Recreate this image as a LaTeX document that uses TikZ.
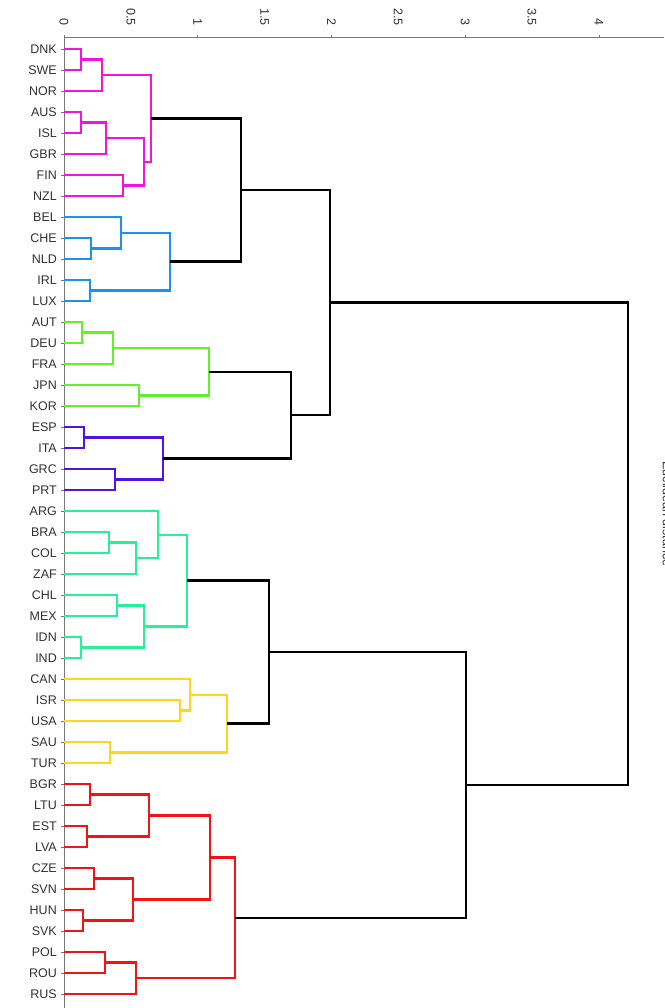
\documentclass[tikz,border=0pt]{standalone}
\usepackage{fontspec}
\setmainfont{Liberation Sans}
\usetikzlibrary{calc}
\definecolor{cpink}{RGB}{240,20,220}
\definecolor{cblue}{RGB}{30,144,240}
\definecolor{cgreen}{RGB}{100,240,40}
\definecolor{cpurp}{RGB}{80,20,225}
\definecolor{cteal}{RGB}{40,240,150}
\definecolor{cyell}{RGB}{255,215,20}
\definecolor{cred}{RGB}{240,20,20}
\definecolor{axgray}{RGB}{120,120,120}
\definecolor{labgray}{RGB}{50,50,50}
\newcommand\dmerge[5]{%
  \coordinate (#1t) at ($(#3)!0.5!(#4)$);
  \coordinate (#1) at (#2,0 |- #1t);
  \draw[#5] (#3) -| (#1) |- (#4);}
\begin{document}
\begin{tikzpicture}[x=1pt,y=-1pt,
  lab/.style={anchor=east,inner sep=0pt,font=\fontsize{12.5}{14}\selectfont,text=labgray},
  ticklab/.style={anchor=east,rotate=-90,inner sep=0pt,font=\fontsize{12.5}{14}\selectfont,text=labgray},
  axis/.style={draw=axgray,line width=0.9pt},
  pk/.style={draw=cpink,line width=2.2pt},
  bl/.style={draw=cblue,line width=2.2pt},
  gr/.style={draw=cgreen,line width=2.2pt},
  pu/.style={draw=cpurp,line width=2.2pt},
  te/.style={draw=cteal,line width=2.2pt},
  ye/.style={draw=cyell,line width=2.2pt},
  rd/.style={draw=cred,line width=2.2pt},
  bk/.style={draw=black,line width=2.6pt}]
\useasboundingbox (0,0) rectangle (664,1008);
\fill[white] (0,0) rectangle (664,1008);
% axes
\coordinate (ax0) at (64,37);
\coordinate (axR) at (664,37);
\coordinate (axB) at (64,1008);
\draw[axis] (axR) -- (ax0) -- (axB);
\foreach \v in {0,0.5,1,1.5,2,2.5,3,3.5,4}{
  \coordinate (tk\v) at ({64+133.7*\v},37);
  \draw[axis,line width=0.6pt] (tk\v) -- ++(0,-2);
  \node[ticklab] (tl\v) at ({64+133.7*\v},26) {\v};
}
% leaves
\foreach \n [count=\i from 0] in {DNK,SWE,NOR,AUS,ISL,GBR,FIN,NZL,BEL,CHE,NLD,IRL,LUX,AUT,DEU,FRA,JPN,KOR,ESP,ITA,GRC,PRT,ARG,BRA,COL,ZAF,CHL,MEX,IDN,IND,CAN,ISR,USA,SAU,TUR,BGR,LTU,EST,LVA,CZE,SVN,HUN,SVK,POL,ROU,RUS}{
  \coordinate (\n) at (64,{49+21*\i});
  \coordinate (k\n) at (61,{49+21*\i});
  \node[lab] (t\n) at (57,{49+21*\i}) {\n};
  \draw[axis,line width=0.6pt] (k\n) -- (\n);
}
% pink
\dmerge{p1}{81}{DNK}{SWE}{pk}
\dmerge{p2}{102}{p1}{NOR}{pk}
\dmerge{p3}{81}{AUS}{ISL}{pk}
\dmerge{p4}{106}{p3}{GBR}{pk}
\dmerge{p5}{123}{FIN}{NZL}{pk}
\dmerge{p6}{144}{p4}{p5}{pk}
\dmerge{p7}{151}{p2}{p6}{pk}
% blue
\dmerge{b1}{91}{CHE}{NLD}{bl}
\dmerge{b2}{121}{BEL}{b1}{bl}
\dmerge{b3}{90}{IRL}{LUX}{bl}
\dmerge{b4}{170}{b2}{b3}{bl}
% green
\dmerge{g1}{82}{AUT}{DEU}{gr}
\dmerge{g2}{113}{g1}{FRA}{gr}
\dmerge{g3}{139}{JPN}{KOR}{gr}
\dmerge{g4}{209}{g2}{g3}{gr}
% purple
\dmerge{v1}{84}{ESP}{ITA}{pu}
\dmerge{v2}{115}{GRC}{PRT}{pu}
\dmerge{v3}{163}{v1}{v2}{pu}
% teal
\dmerge{q1}{109}{BRA}{COL}{te}
\dmerge{q2}{136}{q1}{ZAF}{te}
\dmerge{q3}{158}{ARG}{q2}{te}
\dmerge{q4}{117}{CHL}{MEX}{te}
\dmerge{q5}{81}{IDN}{IND}{te}
\dmerge{q6}{144}{q4}{q5}{te}
\dmerge{q7}{187}{q3}{q6}{te}
% yellow
\dmerge{w1}{180}{ISR}{USA}{ye}
\dmerge{w2}{190}{CAN}{w1}{ye}
\dmerge{w3}{110}{SAU}{TUR}{ye}
\dmerge{w4}{227}{w2}{w3}{ye}
% red
\dmerge{r1}{90}{BGR}{LTU}{rd}
\dmerge{r2}{87}{EST}{LVA}{rd}
\dmerge{r3}{149}{r1}{r2}{rd}
\dmerge{r4}{94}{CZE}{SVN}{rd}
\dmerge{r5}{83}{HUN}{SVK}{rd}
\dmerge{r6}{133}{r4}{r5}{rd}
\dmerge{r7}{210}{r3}{r6}{rd}
\dmerge{r8}{105}{POL}{ROU}{rd}
\dmerge{r9}{136}{r8}{RUS}{rd}
\dmerge{r10}{235}{r7}{r9}{rd}
% black
\dmerge{k1}{241}{p7}{b4}{bk}
\dmerge{k2}{291}{g4}{v3}{bk}
\dmerge{k3}{330}{k1}{k2}{bk}
\dmerge{k4}{269}{q7}{w4}{bk}
\dmerge{k5}{466}{k4}{r10}{bk}
\dmerge{k6}{628}{k3}{k5}{bk}
% clipped axis title at the right edge
\begin{scope}
\clip (0,0) rectangle (664,1008);
\node[rotate=-90,anchor=south,inner sep=0pt,font=\fontsize{12.5}{14}\selectfont,text=labgray] (title) at (662.5,514) {Euclidean distance};
\end{scope}
\end{tikzpicture}
\end{document}
